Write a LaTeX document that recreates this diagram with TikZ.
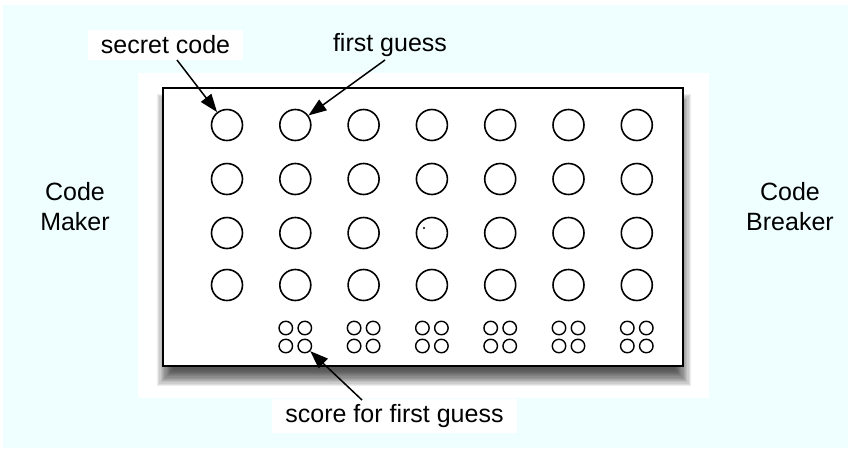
\documentclass[tikz,border=0pt]{standalone}
\usepackage{fontspec}
\setmainfont{Liberation Sans}
\usetikzlibrary{arrows.meta}
\definecolor{bgcyan}{HTML}{EFFFFF}
\tikzset{
  peg/.style={circle,draw=black,line width=1.6pt,minimum size=31pt,inner sep=0pt},
  scorepeg/.style={circle,draw=black,line width=1.4pt,minimum size=13.5pt,inner sep=0pt},
  lbl/.style={font=\fontsize{25}{30}\selectfont,text=black,inner sep=0pt},
  lblbox/.style={lbl,fill=white,inner xsep=10pt,inner ysep=5pt},
  pointer/.style={line width=1.5pt,-{Triangle[length=18pt,width=13pt]}},
}
\begin{document}
\begin{tikzpicture}[x=1pt,y=-1pt]
\useasboundingbox (0,0) rectangle (848,448);
\fill[bgcyan] (3,5) rectangle (848,448);
\fill[white] (138,73) rectangle (709,398);
% blurred shadow
\foreach \k in {0,...,13}{
  \fill[black,opacity=0.07] ({163-6+\k*1.2},{88+6+\k*1.2}) rectangle ({683+8-\k*1.2},{366+20-\k*1.2});
}
\draw[line width=1.8pt,fill=white] (163,88) rectangle (683,366);
% pegs
\foreach \c in {1,...,7}{
  \foreach \r/\y in {1/125,2/179,3/233,4/285}{
    \node[peg] (c\r\c) at ({227+68.3*(\c-1)},\y) {};
  }
}
\fill (424,228) circle (1.2pt);
\foreach \c in {2,...,7}{
  \node[scorepeg] (s\c a) at ({227+68.3*(\c-1)-9.5},328) {};
  \node[scorepeg] (s\c b) at ({227+68.3*(\c-1)+9.5},328) {};
  \node[scorepeg] (s\c c) at ({227+68.3*(\c-1)-9.5},346) {};
  \node[scorepeg] (s\c d) at ({227+68.3*(\c-1)+9.5},346) {};
}
% labels
\node[lblbox,minimum width=155pt,minimum height=30pt] (secret) at (165.5,45) {secret code};
\node[lbl] (first) at (390,45) {first guess};
\node[lblbox,minimum width=245pt,minimum height=29pt] (score) at (394.5,416) {score for first guess};
\node[lbl,align=center] (maker) at (75,207) {Code\\Maker};
\node[lbl,align=center] (breaker) at (790,207) {Code\\Breaker};
% arrows
\coordinate (a1) at (177,60);
\coordinate (a2) at (385,60);
\coordinate (a3) at (362,400);
\draw[pointer] (a1) -- (c11);
\draw[pointer] (a2) -- (c12);
\draw[pointer] (a3) -- (s2d);
\end{tikzpicture}
\end{document}
